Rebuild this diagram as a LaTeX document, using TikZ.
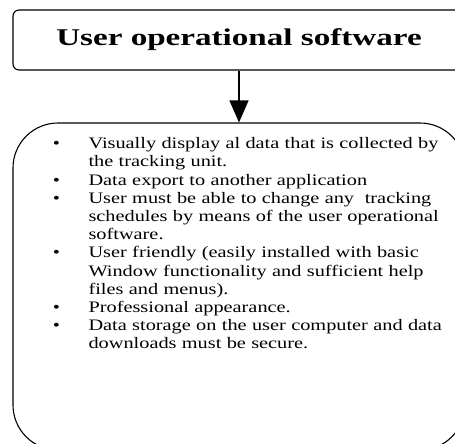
\documentclass[tikz,border=0pt]{standalone}
\usepackage{graphicx}
\usepackage{fontspec}
\setmainfont{Liberation Serif}
\newfontfamily\bodyfont{Liberation Serif}[FakeStretch=1.27]
\newcommand\headtext[1]{\scalebox{1.38}[1]{\bfseries\fontsize{24}{28}\selectfont #1}}
\usetikzlibrary{arrows.meta}

\begin{document}
\begin{tikzpicture}[x=1pt, y=-1pt, line width=1.1pt,
  headbox/.style={draw, rounded corners=6pt, minimum width=452pt,
    minimum height=60pt, inner sep=0pt},
  reqbox/.style={draw, rounded corners=45pt, minimum width=452pt,
    minimum height=327pt, inner sep=0pt},
  itemtext/.style={anchor=north west, inner sep=0pt, text width=460pt,
    align=left, font=\bodyfont\fontsize{16}{18.2}\selectfont},
  flow/.style={-{Triangle[width=19pt,length=22pt]}}]
\useasboundingbox (0,0) rectangle (455,444);

% heading box, running off the right edge
\node[headbox] (head) at (239,40) {\headtext{User operational software}};

% requirements box, running off the right and bottom edges
\node[reqbox] (req) at (239,286.5) {};

\draw[flow] (head.south) -- (req.north);

% requirement list
\node[itemtext] (items) at (44,130) {%
\begin{list}{\textbullet}{\setlength\leftmargin{44pt}\setlength\labelwidth{10pt}%
  \setlength\labelsep{28.5pt}\setlength\itemsep{0pt}\setlength\parsep{0pt}%
  \setlength\topsep{0pt}\setlength\partopsep{0pt}}
\item Visually display al data that is collected by\\ the tracking unit.
\item Data export to another application
\item User must be able to change any\ \ tracking\\ schedules by means of the user operational\\ software.
\item User friendly (easily installed with basic\\ Window functionality and sufficient help\\ files and menus).
\item Professional appearance.
\item Data storage on the user computer and data\\ downloads must be secure.
\end{list}};
\end{tikzpicture}
\end{document}
